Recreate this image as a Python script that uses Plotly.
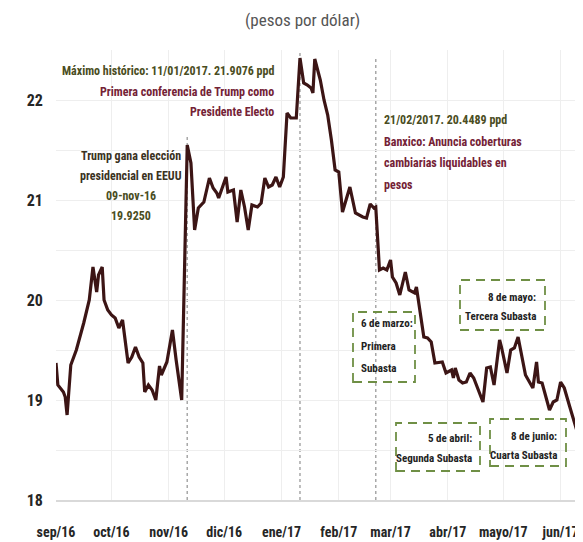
import plotly.graph_objects as go

dates = [
    "2016-09-01", "2016-09-02", "2016-09-05", "2016-09-06", "2016-09-07", "2016-09-09",
    "2016-09-12", "2016-09-15", "2016-09-16", "2016-09-19", "2016-09-21", "2016-09-23",
    "2016-09-24", "2016-09-26", "2016-09-27", "2016-09-29", "2016-10-01", "2016-10-03",
    "2016-10-05", "2016-10-07", "2016-10-10", "2016-10-12", "2016-10-14", "2016-10-16",
    "2016-10-18", "2016-10-19", "2016-10-21", "2016-10-23", "2016-10-25", "2016-10-27",
    "2016-10-28", "2016-10-31", "2016-11-02", "2016-11-03", "2016-11-05", "2016-11-08",
    "2016-11-11", "2016-11-13", "2016-11-15", "2016-11-17", "2016-11-20", "2016-11-23",
    "2016-11-25", "2016-11-27", "2016-11-28", "2016-12-02", "2016-12-03", "2016-12-06",
    "2016-12-08", "2016-12-10", "2016-12-12", "2016-12-14", "2016-12-16", "2016-12-19",
    "2016-12-21", "2016-12-23", "2016-12-25", "2016-12-27", "2016-12-29", "2016-12-31",
    "2017-01-01", "2017-01-02", "2017-01-04", "2017-01-06", "2017-01-09", "2017-01-11",
    "2017-01-13", "2017-01-15", "2017-01-17", "2017-01-18", "2017-01-19", "2017-01-22",
    "2017-01-24", "2017-01-26", "2017-01-28", "2017-01-30", "2017-02-01", "2017-02-03",
    "2017-02-07", "2017-02-10", "2017-02-14", "2017-02-16", "2017-02-18", "2017-02-20",
    "2017-02-21", "2017-02-23", "2017-02-25", "2017-02-27", "2017-03-01", "2017-03-02",
    "2017-03-04", "2017-03-06", "2017-03-09", "2017-03-11", "2017-03-14", "2017-03-15",
    "2017-03-19", "2017-03-21", "2017-03-23", "2017-03-25", "2017-03-29", "2017-03-31",
    "2017-04-03", "2017-04-04", "2017-04-05", "2017-04-07", "2017-04-09", "2017-04-11",
    "2017-04-13", "2017-04-15", "2017-04-20", "2017-04-22", "2017-04-24", "2017-04-26",
    "2017-04-29", "2017-04-30", "2017-05-03", "2017-05-05", "2017-05-07", "2017-05-09",
    "2017-05-13", "2017-05-17", "2017-05-19", "2017-05-20", "2017-05-22", "2017-05-26",
    "2017-05-28", "2017-05-30", "2017-06-01", "2017-06-03", "2017-06-06", "2017-06-08",
    "2017-06-10",
]

pesos_por_dolar = [
    19.37, 19.15, 19.08, 19.03, 18.85, 19.35,
    19.50, 19.70, 19.77, 20.00, 20.33, 20.08,
    20.25, 20.33, 20.00, 19.90, 19.85, 19.82,
    19.72, 19.80, 19.37, 19.43, 19.53, 19.43,
    19.37, 19.08, 19.15, 19.10, 19.00, 19.34,
    19.25, 19.38, 19.62, 19.70, 19.40, 19.00,
    21.55, 21.37, 20.70, 20.92, 20.98, 21.22,
    21.12, 21.07, 21.02, 21.23, 21.08, 21.10,
    20.78, 21.10, 20.93, 20.70, 20.95, 20.93,
    20.97, 21.22, 21.13, 21.15, 21.23, 21.13,
    21.18, 21.23, 21.87, 21.82, 21.82, 22.42,
    22.17, 22.15, 22.12, 22.07, 22.41, 22.20,
    22.00, 21.85, 21.60, 21.30, 21.28, 20.88,
    21.13, 20.87, 20.83, 20.82, 20.96, 20.92,
    20.93, 20.30, 20.32, 20.30, 20.40, 20.23,
    20.17, 20.05, 20.28, 20.10, 20.07, 20.13,
    19.63, 19.62, 19.58, 19.37, 19.38, 19.27,
    19.30, 19.22, 19.32, 19.20, 19.17, 19.18,
    19.27, 19.22, 18.98, 19.32, 19.33, 19.15,
    19.60, 19.53, 19.27, 19.50, 19.52, 19.63,
    19.25, 19.12, 19.38, 19.18, 19.17, 18.90,
    18.98, 19.00, 19.18, 19.12, 18.93, 18.80,
    18.68,
]

month_ticks = ["2016-09-01", "2016-10-01", "2016-11-01", "2016-12-01", "2017-01-01",
               "2017-02-01", "2017-03-01", "2017-04-01", "2017-05-01", "2017-06-01"]
month_labels = ["sep/16", "oct/16", "nov/16", "dic/16", "ene/17",
                "feb/17", "mar/17", "abr/17", "mayo/17", "jun/17"]

y_ticks = [18, 18.5, 19, 19.5, 20, 20.5, 21, 21.5, 22, 22.5]
y_labels = ["18", "", "19", "", "20", "", "21", "", "22", ""]

event_dates = ["2016-11-11", "2017-01-11", "2017-02-21"]
event_tops = [21.65, 22.47, 22.43]

# page shows the figure offset by the default 8px body margin
OFF = 8
W, H = 583 - OFF, 542 - OFF
ML, MR, MT, MB = 56 - OFF, 3, 50 - OFF, 42
PW, PH = W - ML - MR, H - MT - MB


def px(x):
    return (x - OFF - ML) / PW


def py(y):
    return (H + OFF - MB - y) / PH


FONT = "Roboto Condensed, DejaVu Sans Condensed, sans-serif"
OLIVE = "#4a4d22"
MAROON = "#742236"
DARK = "#3a321e"
BOXC = "#6f8f45"

fig = go.Figure()
fig.add_trace(go.Scatter(
    x=dates, y=pesos_por_dolar, mode="lines",
    line=dict(color="#3c1515", width=3.2),
    hoverinfo="x+y", showlegend=False,
))

shapes = []
for d, top in zip(event_dates, event_tops):
    shapes.append(dict(type="line", xref="x", yref="y", x0=d, x1=d, y0=18, y1=top,
                       line=dict(color="#a8a8a8", width=1.5, dash="3px,3px"), layer="below"))

boxes = [(353, 312, 415, 382), (460, 280, 545, 330), (396, 423, 480, 471), (490, 419, 566, 466)]
for x0, y0, x1, y1 in boxes:
    shapes.append(dict(type="rect", xref="paper", yref="paper",
                       x0=px(x0), x1=px(x1), y0=py(y1), y1=py(y0),
                       line=dict(color=BOXC, width=1.8, dash="9px,6px"),
                       fillcolor="rgba(255,255,255,0)"))

annotations = []


def txt(s, x, y, color, anchor="left", size=12, bold=True):
    annotations.append(dict(
        text=("<b>%s</b>" % s) if bold else s, xref="paper", yref="paper",
        x=px(x), y=py(y), xanchor=anchor, yanchor="middle", showarrow=False,
        font=dict(family=FONT, size=size, color=color),
    ))


txt("Máximo histórico: 11/01/2017. 21.9076 ppd", 276, 71, OLIVE, "right")
txt("Primera conferencia de Trump como", 276, 92, MAROON, "right")
txt("Presidente Electo", 276, 112, MAROON, "right")

txt("Trump gana elección", 131, 156, DARK, "center")
txt("presidencial en EEUU", 131, 176, DARK, "center")
txt("09-nov-16", 131, 196, OLIVE, "center")
txt("19.9250", 131, 216, OLIVE, "center")

txt("21/02/2017. 20.4489 ppd", 382, 120, OLIVE, "left")
txt("Banxico: Anuncia coberturas", 382, 142, MAROON, "left")
txt("cambiarias liquidables en", 382, 163, MAROON, "left")
txt("pesos", 382, 185, MAROON, "left")

txt("6 de marzo:", 359, 324, "#222222", "left", 11)
txt("Primera", 359, 347, "#222222", "left", 11)
txt("Subasta", 359, 368, "#222222", "left", 11)

txt("8 de mayo:", 538, 297, "#222222", "right", 11)
txt("Tercera Subasta", 538, 317, "#222222", "right", 11)

txt("5 de abril:", 474, 438, "#222222", "right", 11)
txt("Segunda Subasta", 474, 458, "#222222", "right", 11)

txt("8 de junio:", 559, 436, "#222222", "right", 11)
txt("Cuarta Subasta", 559, 455, "#222222", "right", 11)

annotations.append(dict(
    text="(pesos por dólar)", xref="paper", yref="paper",
    x=px(302), y=py(20), xanchor="center", yanchor="middle", showarrow=False,
    font=dict(family=FONT, size=17, color="#555555"),
))

fig.update_layout(
    width=W, height=H,
    margin=dict(l=ML, r=MR, t=MT, b=MB, pad=0),
    paper_bgcolor="white", plot_bgcolor="white",
    font=dict(family=FONT, color="#333333"),
    shapes=shapes, annotations=annotations,
    xaxis=dict(
        type="date", range=["2016-09-01", "2017-06-11 12:00"],
        tickvals=month_ticks, ticktext=month_labels, tickangle=0,
        showgrid=True, gridcolor="#eeeeee", gridwidth=1,
        showline=True, linecolor="#d9d9d9", linewidth=1.5,
        ticks="outside", ticklen=18, tickcolor="rgba(0,0,0,0)",
        tickfont=dict(family=FONT, size=14, color="#262626", weight="bold"),
        zeroline=False, fixedrange=True,
    ),
    yaxis=dict(
        range=[18, 22.5], tickvals=y_ticks, ticktext=y_labels,
        showgrid=True, gridcolor="#eeeeee", gridwidth=1,
        showline=False, zeroline=False,
        ticks="outside", ticklen=9, tickcolor="rgba(0,0,0,0)",
        tickfont=dict(family=FONT, size=16, color="#262626", weight="bold"),
        fixedrange=True,
    ),
)

fig.write_html("out.html", post_script="document.body.style.overflow='hidden';")
